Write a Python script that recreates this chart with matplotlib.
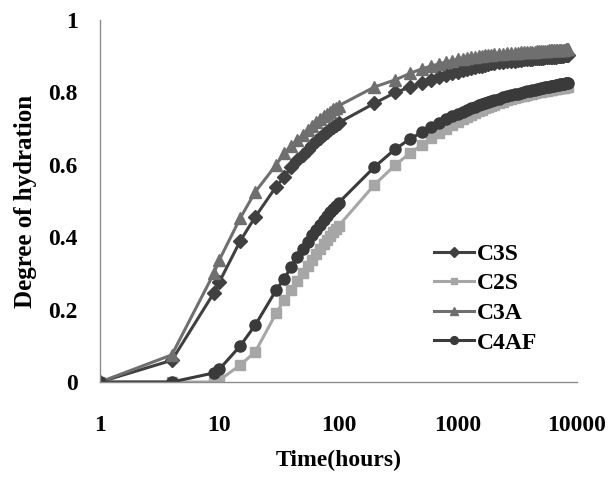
import matplotlib
matplotlib.use("Agg")
import matplotlib.pyplot as plt

plt.rcParams['font.family'] = ['Liberation Serif', 'DejaVu Serif']
plt.rcParams['font.weight'] = 'bold'

# time (hours)
hours = [1, 4, 9, 10, 15, 20, 30, 35, 40, 45, 50, 55, 60, 65, 70, 75, 80, 85, 90, 95, 100,
         200, 300, 400, 500, 600, 700, 800, 900, 1000,
         1100, 1200, 1300, 1400, 1500, 1600, 1700, 1800, 1900, 2000,
         2200, 2400, 2600, 2800, 3000, 3200, 3400, 3600, 3800, 4000,
         4200, 4400, 4600, 4800, 5000, 5200, 5400, 5600, 5800, 6000,
         6200, 6400, 6600, 6800, 7000, 7200, 7400, 7600, 7800, 8000,
         8200, 8400]

c3s = [0, 0.06, 0.246, 0.276, 0.39, 0.456, 0.54, 0.566, 0.594, 0.612, 0.628, 0.642, 0.655, 0.665,
       0.675, 0.684, 0.692, 0.699, 0.705, 0.711, 0.716,
       0.77, 0.80, 0.815, 0.826, 0.835, 0.842, 0.848, 0.853, 0.857,
       0.861, 0.864, 0.867, 0.870, 0.872, 0.874, 0.876, 0.878, 0.880, 0.881,
       0.883, 0.885, 0.886, 0.887, 0.888, 0.889, 0.890, 0.891, 0.892, 0.892,
       0.893, 0.894, 0.894, 0.895, 0.896, 0.896, 0.897, 0.897, 0.898, 0.898,
       0.899, 0.899, 0.899, 0.900, 0.900, 0.901, 0.901, 0.901, 0.902, 0.902,
       0.902, 0.903]

c2s = [0, 0, 0.0, 0.005, 0.047, 0.083, 0.19, 0.226, 0.254, 0.28, 0.30, 0.32, 0.338, 0.354,
       0.368, 0.381, 0.393, 0.404, 0.414, 0.423, 0.431,
       0.545, 0.60, 0.633, 0.655, 0.674, 0.688, 0.70, 0.71, 0.719,
       0.726, 0.732, 0.738, 0.743, 0.748, 0.752, 0.756, 0.759, 0.762, 0.765,
       0.770, 0.774, 0.778, 0.781, 0.784, 0.787, 0.789, 0.791, 0.793, 0.795,
       0.797, 0.798, 0.800, 0.801, 0.802, 0.803, 0.804, 0.805, 0.806, 0.807,
       0.808, 0.809, 0.809, 0.810, 0.811, 0.811, 0.812, 0.813, 0.813, 0.814,
       0.814, 0.815]

c3a = [0, 0.075, 0.30, 0.337, 0.453, 0.525, 0.60, 0.632, 0.652, 0.668, 0.683, 0.696, 0.707, 0.717,
       0.726, 0.734, 0.741, 0.747, 0.753, 0.758, 0.763,
       0.815, 0.835, 0.853, 0.865, 0.873, 0.879, 0.884, 0.888, 0.891,
       0.893, 0.895, 0.897, 0.899, 0.900, 0.901, 0.902, 0.903, 0.904, 0.905,
       0.906, 0.907, 0.908, 0.909, 0.909, 0.910, 0.911, 0.911, 0.912, 0.912,
       0.913, 0.913, 0.914, 0.914, 0.914, 0.915, 0.915, 0.915, 0.916, 0.916,
       0.916, 0.917, 0.917, 0.917, 0.917, 0.918, 0.918, 0.918, 0.918, 0.919,
       0.919, 0.919]

c4af = [0, 0, 0.025, 0.035, 0.10, 0.157, 0.254, 0.285, 0.318, 0.345, 0.368, 0.388, 0.405, 0.421,
        0.435, 0.448, 0.459, 0.469, 0.478, 0.487, 0.495,
        0.594, 0.644, 0.672, 0.69, 0.705, 0.716, 0.726, 0.734, 0.741,
        0.746, 0.751, 0.756, 0.760, 0.764, 0.767, 0.770, 0.773, 0.776, 0.778,
        0.782, 0.786, 0.789, 0.792, 0.795, 0.797, 0.799, 0.801, 0.803, 0.805,
        0.806, 0.808, 0.809, 0.810, 0.812, 0.813, 0.814, 0.815, 0.816, 0.817,
        0.818, 0.819, 0.820, 0.820, 0.821, 0.822, 0.823, 0.823, 0.824, 0.825,
        0.825, 0.826]

fig = plt.figure(figsize=(6.1, 4.79), dpi=100)
ax = fig.add_axes([0.164, 0.2025, 0.782, 0.7557])

ax.plot(hours, c3s, '-D', color='#404040', lw=2.2, ms=7, label='C3S')
ax.plot(hours, c2s, '-s', color='#a6a6a6', lw=2.2, ms=6.5, label='C2S')
ax.plot(hours, c3a, '-^', color='#6f6f6f', lw=2.2, ms=8.5, label='C3A')
ax.plot(hours, c4af, '-o', color='#3a3a3a', lw=2.2, ms=8, label='C4AF')

ax.set_xscale('log')
ax.set_xlim(1, 10000)
ax.set_ylim(0, 1)
ax.set_xticks([1, 10, 100, 1000, 10000])
ax.set_xticklabels(['1', '10', '100', '1000', '10000'])
ax.set_yticks([0, 0.2, 0.4, 0.6, 0.8, 1])
ax.set_yticklabels(['0', '0.2', '0.4', '0.6', '0.8', '1'])
ax.minorticks_off()
ax.tick_params(axis='x', length=0, pad=24, labelsize=17)
ax.tick_params(axis='y', length=0, pad=16, labelsize=17)

for s in ['top', 'right']:
    ax.spines[s].set_visible(False)
for s in ['left', 'bottom']:
    ax.spines[s].set_color('#8c8c8c')
    ax.spines[s].set_linewidth(1)

ax.set_xlabel('Time(hours)', fontsize=17, fontweight='bold', labelpad=10)
ax.set_ylabel('Degree of hydration', fontsize=18, fontweight='bold', labelpad=8)

ax.legend(loc='upper left', bbox_to_anchor=(0.70, 0.383), frameon=False, fontsize=17,
          handlelength=1.7, handletextpad=0.1, labelspacing=0.34, borderaxespad=0,
          borderpad=0, numpoints=1, markerscale=0.7)

fig.savefig('out.png', dpi=100)
